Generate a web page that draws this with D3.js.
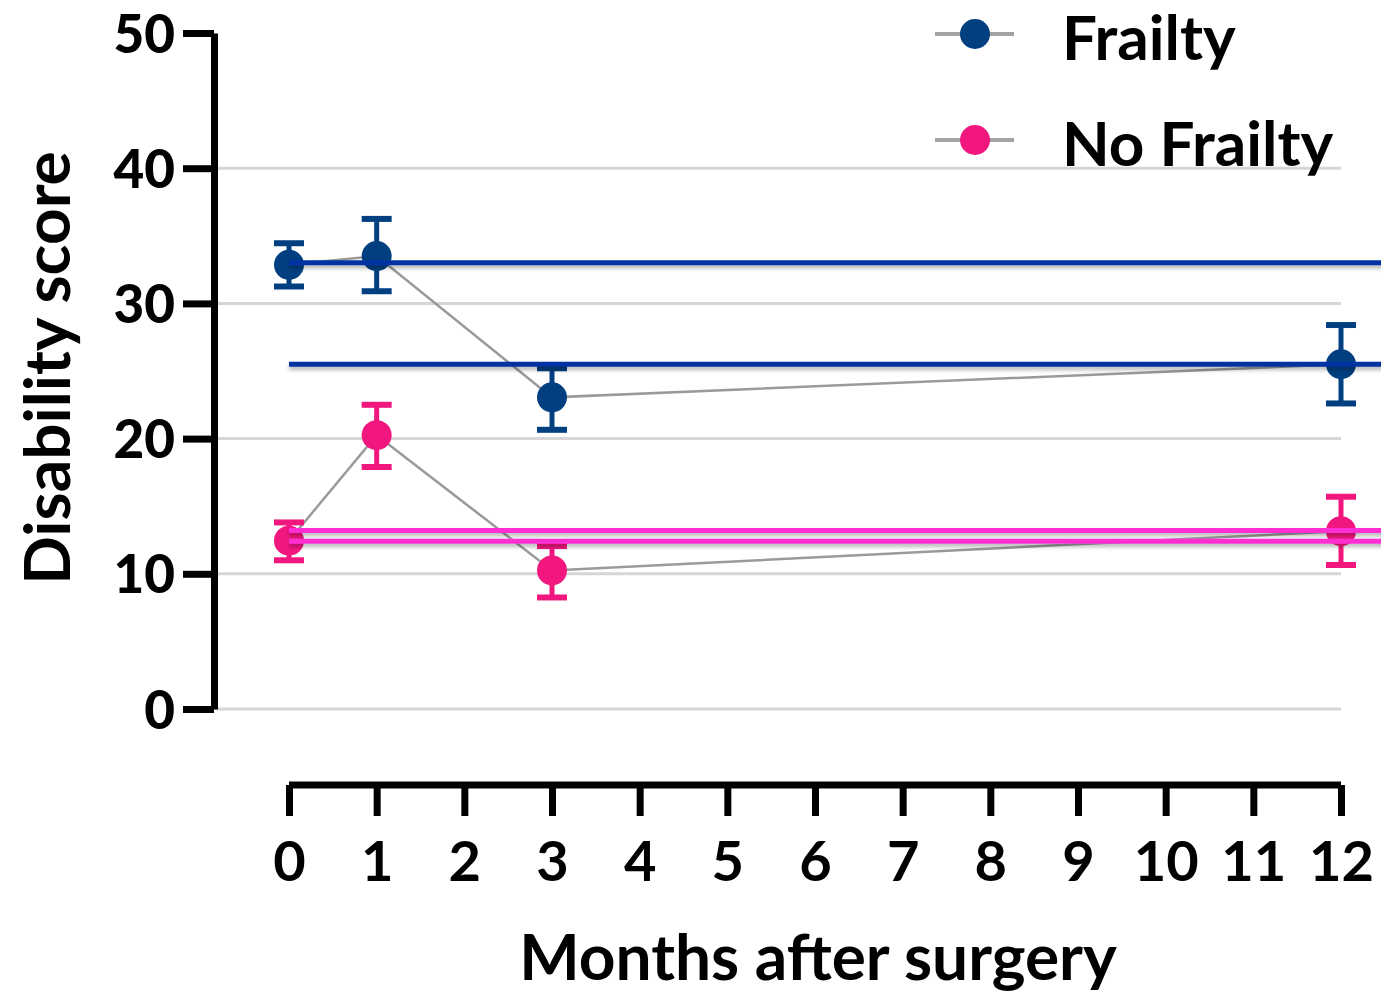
<!DOCTYPE html>
<html>
<head>
<meta charset="utf-8">
<script src="https://cdn.jsdelivr.net/npm/d3@7"></script>
<style>
  body { margin: 0; background: #fff; }
  text { font-family: Lato, "Noto Sans", sans-serif; fill: #000; }
</style>
</head>
<body>
<div id="chart"></div>
<script>
// Data
var months = [0, 1, 3, 12];
var frailtyMean = [32.85, 33.5, 23.05, 25.5];
var frailtyLow = [31.25, 30.9, 20.65, 22.6];
var frailtyHigh = [34.45, 36.25, 25.2, 28.4];
var noFrailtyMean = [12.45, 20.25, 10.25, 13.15];
var noFrailtyLow = [11.0, 17.9, 8.25, 10.65];
var noFrailtyHigh = [13.8, 22.5, 12.05, 15.7];
var frailtyRefs = [33.0, 25.5];     // horizontal reference lines
var noFrailtyRefs = [13.2, 12.4];
var xTicks = d3.range(0, 13);
var yTicks = [0, 10, 20, 30, 40, 50];
var gridValues = [0, 10, 20, 30, 40];

var W = 1381, H = 994;

var svg = d3.select("#chart")
  .append("svg")
    .attr("width", W)
    .attr("height", H);

// drop shadow for the reference lines (user space, lines have no height)
var defs = svg.append("defs");
var f = defs.append("filter").attr("id", "shadow")
  .attr("filterUnits", "userSpaceOnUse")
  .attr("x", 0).attr("y", 0).attr("width", W).attr("height", H);
f.append("feDropShadow")
  .attr("dx", 0).attr("dy", 3).attr("stdDeviation", 2)
  .attr("flood-color", "#000").attr("flood-opacity", 0.3);

// scales
var x = d3.scaleLinear().domain([0, 12]).range([289, 1341]);
var y = d3.scaleLinear().domain([0, 50]).range([709, 33]);

// gridlines
svg.append("g")
  .selectAll("line")
  .data(gridValues)
  .enter().append("line")
    .attr("x1", 217).attr("x2", x(12))
    .attr("y1", d => y(d)).attr("y2", d => y(d))
    .attr("stroke", "#d6d6d6")
    .attr("stroke-width", 3);

// Y axis
var yAxis = svg.append("g")
  .attr("transform", "translate(214,0)")
  .call(d3.axisLeft(y).tickValues(yTicks).tickSize(31).tickSizeOuter(0).tickPadding(8));
yAxis.select(".domain").attr("stroke", "#000").attr("stroke-width", 7);
yAxis.selectAll(".tick line").attr("stroke", "#000").attr("stroke-width", 7);
yAxis.selectAll(".tick text")
  .style("font-family", "Lato, sans-serif")
  .style("font-weight", 900)
  .style("font-size", "53px")
  .attr("dy", "0.36em");

// X axis
var xAxis = svg.append("g")
  .attr("transform", "translate(0,785)")
  .call(d3.axisBottom(x).tickValues(xTicks).tickSize(31).tickSizeOuter(0).tickPadding(25));
xAxis.select(".domain").attr("stroke", "#000").attr("stroke-width", 7)
  .attr("d", "M" + x(0) + ",0H" + x(12));
xAxis.selectAll(".tick line").attr("stroke", "#000").attr("stroke-width", 7);
xAxis.selectAll(".tick text")
  .style("font-family", "Lato, sans-serif")
  .style("font-weight", 700)
  .style("font-size", "56px")
  .attr("dy", "0.71em");

// axis titles
svg.append("text")
  .attr("text-anchor", "middle")
  .attr("x", 818)
  .attr("y", 980)
  .style("font-weight", 700)
  .style("font-size", "64px")
  .text("Months after surgery");

svg.append("text")
  .attr("text-anchor", "middle")
  .attr("transform", "rotate(-90)")
  .attr("x", -368)
  .attr("y", 70)
  .style("font-weight", 700)
  .style("font-size", "64px")
  .text("Disability score");

// series
var series = [
  { name: "Frailty", color: "#023f80", refColor: "#0033a3", mean: frailtyMean, low: frailtyLow, high: frailtyHigh, refs: frailtyRefs },
  { name: "No Frailty", color: "#f2177f", refColor: "#ff2ed2", mean: noFrailtyMean, low: noFrailtyLow, high: noFrailtyHigh, refs: noFrailtyRefs }
];

series.forEach(function (s) {
  var pts = months.map(function (m, i) {
    return { m: m, v: s.mean[i], lo: s.low[i], hi: s.high[i] };
  });

  // grey connecting line
  svg.append("path")
    .datum(pts)
    .attr("fill", "none")
    .attr("stroke", "#9a9a9a")
    .attr("stroke-width", 2.5)
    .attr("d", d3.line().x(d => x(d.m)).y(d => y(d.v)));

  var g = svg.append("g");
  // error bars
  g.selectAll(".stem").data(pts).enter().append("line")
    .attr("x1", d => x(d.m)).attr("x2", d => x(d.m))
    .attr("y1", d => y(d.lo)).attr("y2", d => y(d.hi))
    .attr("stroke", s.color).attr("stroke-width", 5);
  g.selectAll(".capHi").data(pts).enter().append("line")
    .attr("x1", d => x(d.m) - 15).attr("x2", d => x(d.m) + 15)
    .attr("y1", d => y(d.hi)).attr("y2", d => y(d.hi))
    .attr("stroke", s.color).attr("stroke-width", 6);
  g.selectAll(".capLo").data(pts).enter().append("line")
    .attr("x1", d => x(d.m) - 15).attr("x2", d => x(d.m) + 15)
    .attr("y1", d => y(d.lo)).attr("y2", d => y(d.lo))
    .attr("stroke", s.color).attr("stroke-width", 6);
  // markers
  g.selectAll("circle").data(pts).enter().append("circle")
    .attr("cx", d => x(d.m)).attr("cy", d => y(d.v))
    .attr("r", 15)
    .attr("fill", s.color);
});

// reference lines drawn over the markers
series.forEach(function (s) {
  svg.append("g")
    .selectAll("line")
    .data(s.refs)
    .enter().append("line")
      .attr("x1", x(0)).attr("x2", W + 5)
      .attr("y1", d => y(d)).attr("y2", d => y(d))
      .attr("stroke", s.refColor)
      .attr("stroke-width", 5)
      .attr("filter", "url(#shadow)");
});

// legend
var legend = svg.append("g")
  .selectAll("g")
  .data(series)
  .enter().append("g")
    .attr("transform", (d, i) => "translate(0," + (34 + i * 106) + ")");
legend.append("line")
  .attr("x1", 935).attr("x2", 1014)
  .attr("stroke", "#a3a3a3").attr("stroke-width", 4);
legend.append("circle")
  .attr("cx", 975).attr("r", 15)
  .attr("fill", d => d.color);
legend.append("text")
  .attr("x", 1062)
  .attr("y", 26)
  .style("font-weight", 700)
  .style("font-size", "62px")
  .text(d => d.name);
</script>
</body>
</html>
